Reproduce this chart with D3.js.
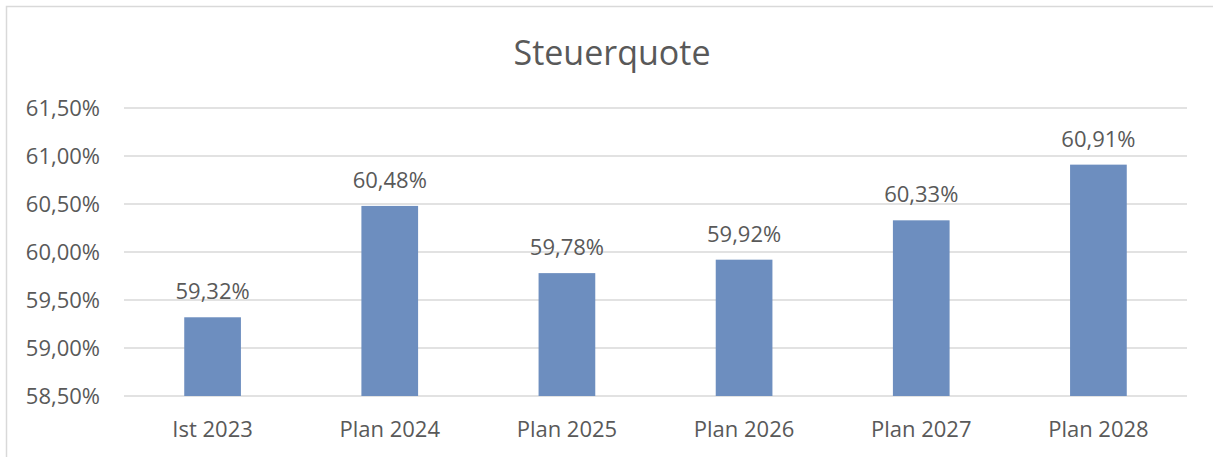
<!DOCTYPE html>
<html>
<head>
<meta charset="utf-8">
<script src="https://cdn.jsdelivr.net/npm/d3@7"></script>
<style>
  body { margin: 0; background: #fff; }
  text { font-family: "Open Sans", "Noto Sans", sans-serif; fill: #595959; }
</style>
</head>
<body>
<div class="chart"></div>
<script>
// Steuerquote - bar chart
var categories = ["Ist 2023", "Plan 2024", "Plan 2025", "Plan 2026", "Plan 2027", "Plan 2028"];
var values = [59.32, 60.48, 59.78, 59.92, 60.33, 60.91];
var yTicks = [58.5, 59.0, 59.5, 60.0, 60.5, 61.0, 61.5];

var svgWidth = 1213;
var svgHeight = 457;
var margin = {top: 108, right: 26, bottom: 61, left: 124};
var width = svgWidth - margin.left - margin.right;
var height = svgHeight - margin.top - margin.bottom;

var svg = d3.select(".chart").append("svg").attr("width", svgWidth).attr("height", svgHeight);
// chart frame
svg.append("rect").attr("x", 6.5).attr("y", 6.5).attr("width", 1240).attr("height", 480)
  .attr("fill", "none").attr("stroke", "#d9d9d9").attr("stroke-width", 1.5);

var chartGroup = svg.append("g").attr("transform", `translate(${margin.left}, ${margin.top})`);

var fmt = v => v.toFixed(2).replace(".", ",") + "%";

var xScale = d3.scaleBand().domain(categories).range([0, width]).paddingInner(0.68).paddingOuter(0.34);
var yScale = d3.scaleLinear().domain([58.5, 61.5]).range([height, 0]);

// gridlines
chartGroup.append("g").selectAll("line").data(yTicks).enter().append("line")
  .attr("x1", 0).attr("x2", width)
  .attr("y1", d => yScale(d)).attr("y2", d => yScale(d))
  .attr("stroke", "#d9d9d9").attr("stroke-width", 1.5);

// y axis labels
var leftAxis = d3.axisLeft(yScale).tickValues(yTicks).tickFormat(fmt).tickSize(0).tickPadding(24);
var yAxisG = chartGroup.append("g").call(leftAxis);
yAxisG.select(".domain").remove();
yAxisG.selectAll("text").attr("font-size", "22px").attr("font-family", null).attr("fill", "#595959");

// x axis labels
var bottomAxis = d3.axisBottom(xScale).tickSize(0).tickPadding(25);
var xAxisG = chartGroup.append("g").attr("transform", `translate(0, ${height})`).call(bottomAxis);
xAxisG.select(".domain").remove();
xAxisG.selectAll("text").attr("font-size", "22px").attr("font-family", null).attr("fill", "#595959");

// bars
chartGroup.selectAll(".bar").data(values).enter().append("rect")
  .attr("class", "bar")
  .attr("x", (d, i) => xScale(categories[i]))
  .attr("y", d => yScale(d))
  .attr("width", xScale.bandwidth())
  .attr("height", d => height - yScale(d))
  .attr("fill", "#6d8ebf");

// value labels
chartGroup.selectAll(".val").data(values).enter().append("text")
  .attr("class", "val")
  .attr("x", (d, i) => xScale(categories[i]) + xScale.bandwidth() / 2)
  .attr("y", d => yScale(d) - 18)
  .attr("text-anchor", "middle")
  .attr("font-size", "22px")
  .attr("fill", "#404040")
  .text(fmt);

// title
svg.append("text").attr("x", 612).attr("y", 65).attr("text-anchor", "middle")
  .attr("font-size", "34px").attr("fill", "#595959").text("Steuerquote");
</script>
</body>
</html>
